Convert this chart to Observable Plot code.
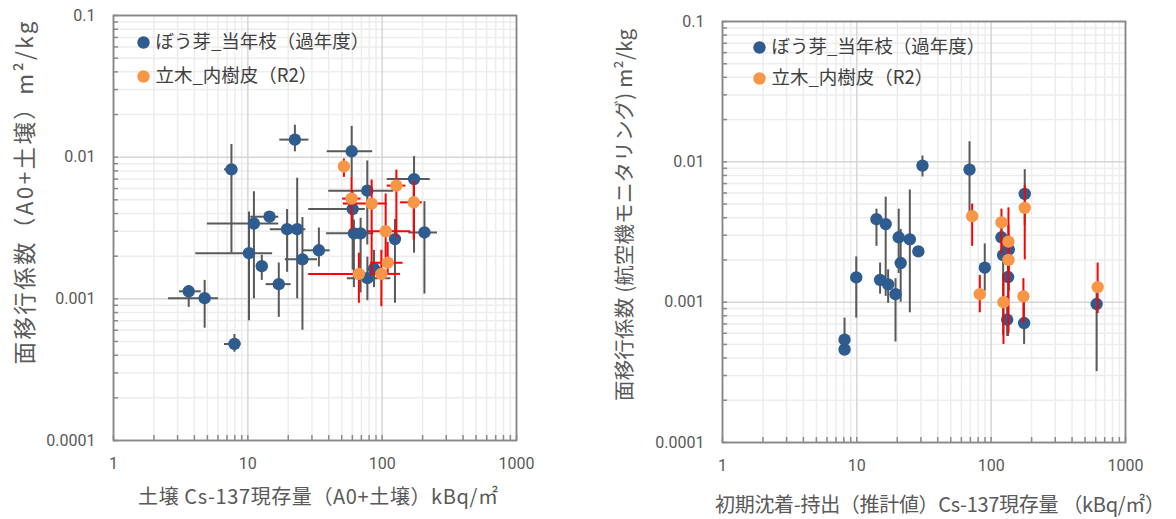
<!DOCTYPE html>
<html><head><meta charset="utf-8">
<script src="https://cdn.jsdelivr.net/npm/d3@7"></script>
<script src="https://cdn.jsdelivr.net/npm/@observablehq/plot@0.6"></script>
<style>
body{margin:0;background:#fff;width:1176px;height:519px;overflow:hidden;position:relative;}
#left{position:absolute;left:0;top:0;}
#right{position:absolute;left:590px;top:0;}
</style></head>
<body><div id="left"></div><div id="right"></div>
<script>
const seriesNames = ["ぼう芽_当年枝（過年度）", "立木_内樹皮（R2）"];
const xTickValues = [1, 10, 100, 1000];
const yTickValues = [0.0001, 0.001, 0.01, 0.1];
const leftYTitle = "面移行係数（A0+土壌）m²/kg";
const leftXTitle = "土壌 Cs-137現存量（A0+土壌）kBq/㎡";
const rightYTitle = "面移行係数 (航空機モニタリング) m²/kg";
const rightXTitle = "初期沈着-持出（推計値）Cs-137現存量 （kBq/㎡）";

// Left panel – blue series (ぼう芽_当年枝)
const leftBlueX   = [22.4,7.55,14.5,11.1,10.2,12.7,19.6,23.3,25.5,33.8,17.0,3.63,4.77,7.95,59.3,172.7,77.5,60.3,61.6,69.1,124.5,206.4,86.9,77.6];
const leftBlueY   = [0.0133,0.0082,0.0038,0.0034,0.0021,0.0017,0.0031,0.0031,0.0019,0.0022,0.00127,0.00113,0.00101,0.00048,0.0110,0.0070,0.0058,0.0043,0.0029,0.0029,0.00264,0.00294,0.00163,0.0014];
const leftBlueXLo = [17.3,6.7,10.5,5.0,4.1,null,14.7,20.0,19.0,25.5,13.7,3.1,2.57,6.7,39,109,40,28.4,null,38.6,null,158,null,55];
const leftBlueXHi = [28.5,8.4,17.0,17.0,15.3,null,23.0,27.0,33.0,41.0,21.0,4.5,6.06,8.9,85,228,122,75,null,86.6,null,258,null,116];
const leftBlueYLo = [0.0109,0.0021,0.0035,0.0010,0.0007,0.00135,0.00154,0.0010,0.0006,0.00168,0.00074,0.00087,0.00062,0.00042,0.0072,0.0021,0.0024,0.0016,0.0012,0.0011,0.00093,0.00108,0.0012,0.00097];
const leftBlueYHi = [0.0168,0.0123,0.0041,0.0057,0.0041,0.00203,0.00427,0.0071,0.00375,0.00316,0.00179,0.00123,0.00135,0.00056,0.0165,0.0101,0.0094,0.0058,0.0036,0.0037,0.00363,0.00485,0.0022,0.00197];

// Left panel – orange series (立木_内樹皮)
const leftOrangeX   = [51.9,127.6,59.2,83.5,171.8,106.2,109.9,67.1,98.6];
const leftOrangeY   = [0.0086,0.0063,0.0051,0.0047,0.0048,0.0030,0.0018,0.0015,0.0015];
const leftOrangeXLo = [null,109,50.7,51.4,137,77.9,82,28.4,82];
const leftOrangeXHi = [null,150,69.5,109,199,163.6,143,72,137];
const leftOrangeYLo = [0.0072,0.0027,0.0030,0.0015,0.0026,0.0017,0.0015,0.00093,0.00088];
const leftOrangeYHi = [0.0097,0.0081,0.0072,0.0069,0.0067,0.0055,0.0025,0.0021,0.0022];

// Right panel – blue series
const rightBlueX   = [30.8,14.0,16.4,20.5,24.8,28.7,21.2,9.9,14.9,17.1,19.4,8.1,8.1,69.0,177.8,119.3,122.8,135.3,89.6,133.7,131.5,175.9,609.7];
const rightBlueY   = [0.0094,0.0039,0.0036,0.0029,0.0028,0.0023,0.0019,0.0015,0.00144,0.00134,0.00114,0.00054,0.00046,0.0088,0.0059,0.0029,0.00216,0.00237,0.00176,0.00151,0.00075,0.00071,0.00097];
const rightBlueYLo = [0.0078,0.0025,0.0011,0.0016,0.00084,null,0.0010,0.00077,0.00114,0.00098,0.00052,0.00054,0.00046,0.0041,0.0035,0.0021,0.00058,0.0012,0.0012,0.00057,0.00057,0.0005,0.00032];
const rightBlueYHi = [0.011,0.0046,0.0056,0.0046,0.0063,null,0.0033,0.0021,0.0019,0.0017,0.00147,0.00077,0.00046,0.0139,0.0088,0.0035,0.0030,0.0030,0.0026,0.0020,0.0011,0.0011,0.0012];

// Right panel – orange series
const rightOrangeX   = [72.2,119.3,134.5,177.8,134.5,82.3,123.5,173.8,620.5];
const rightOrangeY   = [0.0041,0.0037,0.0027,0.0047,0.0020,0.00114,0.0010,0.0011,0.00128];
const rightOrangeYLo = [0.0025,0.0022,0.0016,0.0020,0.0006,0.00084,0.0005,0.00071,0.00083];
const rightOrangeYHi = [0.0050,0.0046,0.0047,0.0068,0.0035,0.00155,0.0016,0.00147,0.0019];

const BLUE = "#2F5C8F", ORANGE = "#F79646", GRAYBAR = "#595959", REDBAR = "#FF0000";
const NUMFONT = "'Liberation Sans Narrow','Roboto','Noto Sans',sans-serif";
const JPFONT = "'Noto Sans CJK JP',sans-serif";

function table(x, y, xlo, xhi, ylo, yhi) {
  return x.map((v, i) => ({
    x: v, y: y[i],
    xlo: xlo ? xlo[i] : null, xhi: xhi ? xhi[i] : null,
    ylo: ylo ? ylo[i] : null, yhi: yhi ? yhi[i] : null
  }));
}

const xAll = d3.scaleLog().domain([xTickValues[0], xTickValues[3]]).ticks();
const yAll = d3.scaleLog().domain([yTickValues[0], yTickValues[3]]).ticks();
const xMinor = xAll.filter(v => !xTickValues.includes(v));
const yMinor = yAll.filter(v => !yTickValues.some(t => Math.abs(t - v) / t < 1e-6));

function panel(cfg) {
  const {blue, orange} = cfg;
  const errMarks = (data, color) => [
    Plot.ruleY(data.filter(d => d.xlo != null), {y: "y", x1: "xlo", x2: "xhi", stroke: color, strokeWidth: 2}),
    Plot.ruleX(data.filter(d => d.ylo != null), {x: "x", y1: "ylo", y2: "yhi", stroke: color, strokeWidth: 2})
  ];
  const svg = Plot.plot({
    width: cfg.width, height: 519,
    marginLeft: cfg.mL, marginRight: cfg.mR, marginTop: cfg.mT, marginBottom: cfg.mB,
    style: {fontFamily: NUMFONT, color: "#595959", background: "transparent", overflow: "visible"},
    x: {type: "log", domain: [1, 1000]},
    y: {type: "log", domain: [0.0001, 0.1]},
    marks: [
      Plot.ruleX(xMinor, {stroke: "#EDEDED", strokeWidth: 1.5}),
      Plot.ruleY(yMinor, {stroke: "#EDEDED", strokeWidth: 1.5}),
      Plot.ruleX(xTickValues, {stroke: "#D6D6D6", strokeWidth: 1.5}),
      Plot.ruleY(yTickValues, {stroke: "#D6D6D6", strokeWidth: 1.5}),
      Plot.axisY(yAll, {anchor: "left", tickSize: 5, dx: 5, tickFormat: () => "", stroke: "#8A8A8A", strokeWidth: 1.5, label: null}),
      Plot.axisX(xAll, {anchor: "bottom", tickSize: 5, dy: -5, tickFormat: () => "", stroke: "#8A8A8A", strokeWidth: 1.5, label: null}),
      Plot.axisY(yTickValues, {anchor: "left", tickSize: 0, tickPadding: cfg.yPad, tickFormat: d => String(d), fontSize: 16, fill: "#595959", label: null}),
      Plot.axisX(xTickValues, {anchor: "bottom", tickSize: 0, tickPadding: 17, tickFormat: d => String(d), fontSize: 16, fill: "#595959", label: null}),
      Plot.frame({stroke: "#878787", strokeWidth: 1.8}),
      ...errMarks(blue, GRAYBAR),
      Plot.dot(blue, {x: "x", y: "y", r: 6.2, fill: BLUE, stroke: null}),
      ...errMarks(orange, REDBAR),
      Plot.dot(orange, {x: "x", y: "y", r: 6.2, fill: ORANGE, stroke: null}),
      // legend
      Plot.dot([seriesNames[0]], {frameAnchor: "top-left", dx: cfg.legDx, dy: cfg.legDy1, r: 6.2, fill: BLUE}),
      Plot.dot([seriesNames[1]], {frameAnchor: "top-left", dx: cfg.legDx, dy: cfg.legDy2, r: 6.2, fill: ORANGE}),
      Plot.text([seriesNames[0]], {text: d => d, frameAnchor: "top-left", dx: cfg.legDx + 12, dy: cfg.legDy1, textAnchor: "start", lineAnchor: "middle", fontSize: 18.5, fill: "#404040", fontFamily: JPFONT}),
      Plot.text([seriesNames[1]], {text: d => d, frameAnchor: "top-left", dx: cfg.legDx + 12, dy: cfg.legDy2, textAnchor: "start", lineAnchor: "middle", fontSize: 18.5, fill: "#404040", fontFamily: JPFONT}),
      // axis titles
      Plot.text([cfg.yTitle], {text: d => d, frameAnchor: "left", textAnchor: "middle", lineAnchor: "middle", dx: cfg.yTitleDx, dy: cfg.yTitleDy, rotate: -90, fontSize: cfg.yTitleSize, fill: "#595959", fontFamily: JPFONT}),
      Plot.text([cfg.xTitle], {text: d => d, frameAnchor: "bottom", textAnchor: "middle", lineAnchor: "middle", dx: cfg.xTitleDx, dy: cfg.xTitleDy, fontSize: 20, fill: "#595959", fontFamily: JPFONT})
    ]
  });
  svg.querySelectorAll("text").forEach(t => {
    if (t.textContent === cfg.yTitle) { t.setAttribute("textLength", cfg.yTitleLen); t.setAttribute("lengthAdjust", "spacing"); }
    if (t.textContent === cfg.xTitle) { t.setAttribute("textLength", cfg.xTitleLen); t.setAttribute("lengthAdjust", "spacing"); }
  });
  return svg;
}

document.getElementById("left").append(panel({
  width: 580, mL: 113, mR: 64, mT: 15, mB: 79, yPad: 18,
  blue: table(leftBlueX, leftBlueY, leftBlueXLo, leftBlueXHi, leftBlueYLo, leftBlueYHi),
  orange: table(leftOrangeX, leftOrangeY, leftOrangeXLo, leftOrangeXHi, leftOrangeYLo, leftOrangeYHi),
  legDx: 30, legDy1: 27, legDy2: 61,
  yTitle: leftYTitle, yTitleDx: -88, yTitleDy: -35, yTitleLen: 343, yTitleSize: 22.5,
  xTitle: leftXTitle, xTitleDx: 3, xTitleDy: 57, xTitleLen: 360
}));

document.getElementById("right").append(panel({
  width: 586, mL: 132, mR: 51, mT: 21, mB: 77, yPad: 18,
  blue: table(rightBlueX, rightBlueY, null, null, rightBlueYLo, rightBlueYHi),
  orange: table(rightOrangeX, rightOrangeY, null, null, rightOrangeYLo, rightOrangeYHi),
  legDx: 37, legDy1: 26, legDy2: 57,
  yTitle: rightYTitle, yTitleDx: -97, yTitleDy: -17, yTitleLen: 372, yTitleSize: 20.5,
  xTitle: rightXTitle, xTitleDx: 16, xTitleDy: 63, xTitleLen: 450
}));
</script>
</body></html>
